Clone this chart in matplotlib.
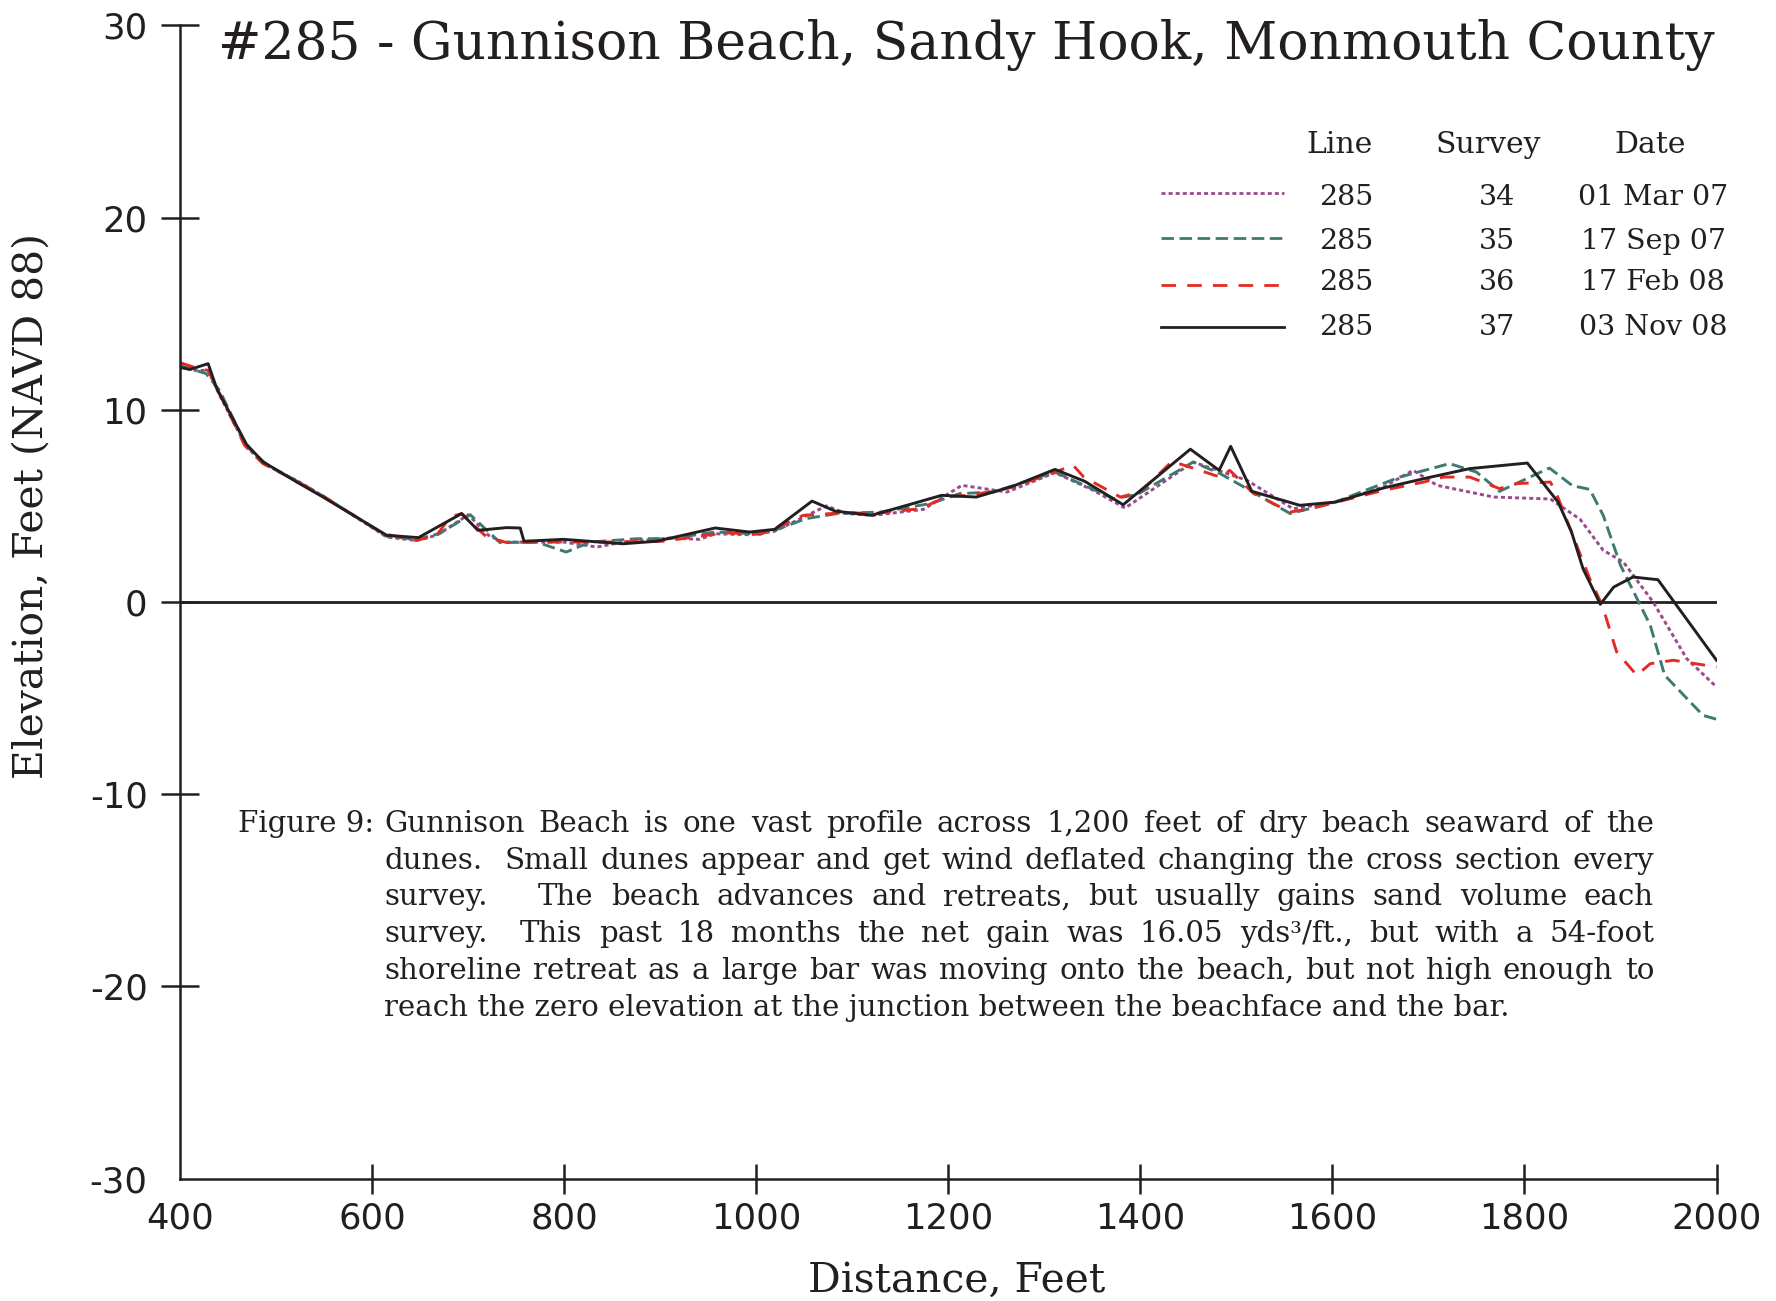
import matplotlib
matplotlib.use("Agg")
import matplotlib.pyplot as plt
from matplotlib.lines import Line2D

# profile data, distance (ft) vs elevation (ft NAVD 88)
d34 = [400, 413, 429, 441, 469, 490, 521, 549, 615, 646, 667, 700, 721, 736, 799, 834, 861, 910, 941, 957,
       993, 1019, 1073, 1094, 1122, 1174, 1214, 1261, 1311, 1351, 1384, 1455, 1511, 1559, 1603, 1653, 1684,
       1709, 1768, 1827, 1858, 1882, 1903, 1934, 1969, 2000]
e34 = [12.3, 12.05, 12.05, 10.75, 8.05, 7.1, 6.33, 5.5, 3.38, 3.2, 3.47, 4.54, 3.47, 3.12, 3.12, 2.86, 3.12,
       3.33, 3.26, 3.55, 3.5, 3.68, 5.0, 4.6, 4.51, 4.82, 6.07, 5.72, 6.73, 5.81, 4.89, 7.28, 6.33, 4.85, 5.2,
       5.98, 6.85, 6.07, 5.46, 5.36, 4.3, 2.69, 2.08, 0.0, -2.95, -4.42]

d35 = [400, 427, 441, 469, 490, 521, 549, 615, 646, 670, 702, 733, 771, 802, 827, 875, 910, 957, 993, 1019,
       1052, 1084, 1129, 1181, 1212, 1247, 1311, 1372, 1396, 1455, 1483, 1514, 1556, 1603, 1670, 1722, 1750,
       1774, 1826, 1850, 1868, 1882, 1900, 1931, 1946, 1986, 2000]
e35 = [12.3, 11.88, 11.0, 8.1, 7.15, 6.3, 5.5, 3.42, 3.26, 3.56, 4.54, 3.09, 3.12, 2.6, 3.12, 3.29, 3.3, 3.64,
       3.56, 3.73, 4.34, 4.6, 4.68, 5.12, 5.64, 5.72, 6.76, 5.38, 5.58, 7.28, 6.68, 5.81, 4.6, 5.2, 6.5, 7.2,
       6.76, 5.76, 6.97, 6.05, 5.86, 4.51, 1.91, -1.21, -3.81, -5.9, -6.1]

d36 = [400, 415, 429, 440, 467, 486, 521, 549, 611, 646, 667, 681, 693, 719, 740, 785, 841, 903, 948, 969,
       1004, 1019, 1049, 1094, 1122, 1170, 1198, 1226, 1268, 1330, 1341, 1379, 1400, 1433, 1483, 1493, 1518,
       1556, 1577, 1653, 1695, 1716, 1743, 1774, 1792, 1827, 1834, 1868, 1881, 1896, 1917, 1931, 1955, 2000]
e36 = [12.45, 12.2, 12.05, 10.93, 8.15, 7.2, 6.3, 5.5, 3.56, 3.2, 3.47, 4.42, 4.6, 3.38, 3.09, 3.12, 3.12,
       3.16, 3.47, 3.6, 3.52, 3.82, 4.51, 4.65, 4.6, 4.85, 5.46, 5.58, 5.98, 7.11, 6.5, 5.46, 5.72, 7.32, 6.5,
       6.85, 5.64, 4.68, 4.85, 5.81, 6.24, 6.5, 6.5, 5.9, 6.16, 6.24, 5.55, 1.21, -0.17, -2.6, -3.81, -3.21,
       -3.03, -3.38]

d37 = [400, 410, 429, 438, 469, 486, 521, 549, 615, 648, 693, 710, 740, 754, 758, 799, 861, 896, 957, 993,
       1019, 1058, 1082, 1120, 1163, 1193, 1229, 1268, 1311, 1342, 1382, 1452, 1482, 1494, 1516, 1566, 1603,
       1653, 1698, 1743, 1803, 1835, 1849, 1861, 1879, 1893, 1913, 1939, 2000]
e37 = [12.2, 12.1, 12.4, 11.1, 8.2, 7.3, 6.25, 5.45, 3.47, 3.35, 4.6, 3.73, 3.87, 3.85, 3.16, 3.26, 3.03,
       3.16, 3.85, 3.64, 3.78, 5.25, 4.73, 4.51, 5.12, 5.55, 5.46, 6.04, 6.9, 6.28, 5.06, 7.95, 6.85, 8.1,
       5.76, 5.03, 5.2, 5.93, 6.45, 6.94, 7.23, 5.2, 3.64, 1.73, -0.12, 0.78, 1.3, 1.16, -3.03]

line_ids = ["285", "285", "285", "285"]
surveys = ["34", "35", "36", "37"]
dates = ["01 Mar 07", "17 Sep 07", "17 Feb 08", "03 Nov 08"]

title = "#285 - Gunnison Beach, Sandy Hook, Monmouth County"
caption_lines = [
    "Gunnison Beach is one vast profile across 1,200 feet of dry beach seaward of the",
    "dunes.  Small dunes appear and get wind deflated changing the cross section every",
    "survey.   The beach advances and retreats, but usually gains sand volume each",
    "survey.  This past 18 months the net gain was 16.05 yds\u00b3/ft., but with a 54-foot",
    "shoreline retreat as a large bar was moving onto the beach, but not high enough to",
    "reach the zero elevation at the junction between the beachface and the bar.",
]

W, H = 1776, 1301
ink = "#231f20"
serif = "DejaVu Serif"
plt.rcParams["lines.scale_dashes"] = False
plt.rcParams["axes.unicode_minus"] = False

fig = plt.figure(figsize=(W / 100, H / 100), dpi=100)
ax = fig.add_axes([180.3 / W, 1 - 1178.6 / H, (1716.5 - 180.3) / W, (1178.6 - 25.4) / H])

styles = [
    (d34, e34, "#9b4a8c", (0, (2.9, 2.2))),
    (d35, e35, "#3e7a70", (0, (9.0, 4.0))),
    (d36, e36, "#e32b24", (0, (10.5, 8.0))),
    (d37, e37, ink, "-"),
]
for x, y, c, ls in styles:
    ax.plot(x, y, color=c, linestyle=ls, lw=2.1)

ax.axhline(0, color=ink, lw=2.0, zorder=1)

ax.set_xlim(400, 2000)
ax.set_ylim(-30, 30)
ax.set_xticks(range(400, 2001, 200))
ax.set_yticks(range(-30, 31, 10))
for s in ["top", "right"]:
    ax.spines[s].set_visible(False)
for s in ["left", "bottom"]:
    ax.spines[s].set_linewidth(1.8)
    ax.spines[s].set_color(ink)
ax.tick_params(axis="y", direction="inout", length=27, width=1.8, pad=10, color=ink,
               labelsize=25.5, labelcolor=ink)
ax.tick_params(axis="x", direction="inout", length=21, width=1.8, pad=6, color=ink,
               labelsize=25.5, labelcolor=ink)
ax.xaxis.get_major_ticks()[0].tick1line.set_visible(False)
ax.xaxis.get_major_ticks()[0].tick2line.set_visible(False)
ax.yaxis.get_major_ticks()[0].tick1line.set_visible(False)
for lab in ax.get_xticklabels() + ax.get_yticklabels():
    lab.set_family("DejaVu Sans")

fig.text(218 / W, 1 - 59 / H, title, family=serif, fontsize=37.4, color=ink, va="baseline", ha="left")
fig.text(957 / W, 1 - 1281 / H, "Distance, Feet", family=serif, fontsize=29.3, color=ink,
         ha="center", va="center")
fig.text(32 / W, 1 - 506 / H, "Elevation, Feet (NAVD 88)", family=serif, fontsize=29.3, color=ink,
         ha="center", va="center", rotation=90)

# legend as a small table
leg_fs = 20.5
hdr_fs = 21.5
fig.text(1340 / W, 1 - 153 / H, "Line", family=serif, fontsize=hdr_fs, color=ink, ha="center", va="baseline")
fig.text(1488 / W, 1 - 153 / H, "Survey", family=serif, fontsize=hdr_fs, color=ink, ha="center", va="baseline")
fig.text(1650 / W, 1 - 153 / H, "Date", family=serif, fontsize=hdr_fs, color=ink, ha="center", va="baseline")
row_base = [205, 249, 290, 335]
row_key = [193, 238, 285, 327]
for i, (x, y, c, ls) in enumerate(styles):
    fig.add_artist(Line2D([1161 / W, 1284 / W], [1 - row_key[i] / H] * 2, color=c, linestyle=ls,
                          lw=2.0, transform=fig.transFigure))
    yb = 1 - row_base[i] / H
    fig.text(1346 / W, yb, line_ids[i], family=serif, fontsize=leg_fs, color=ink, ha="center", va="baseline")
    fig.text(1497 / W, yb, surveys[i], family=serif, fontsize=leg_fs, color=ink, ha="center", va="baseline")
    fig.text(1653 / W, yb, dates[i], family=serif, fontsize=leg_fs, color=ink, ha="center", va="baseline")

# caption, justified word by word
cap_fs = 21.1
left, right = 384, 1654
base0, step = 832, 36.7
fig.text(238 / W, 1 - base0 / H, "Figure 9:", family=serif, fontsize=cap_fs, color=ink, va="baseline")
renderer = fig.canvas.get_renderer()


def width_px(s):
    t = fig.text(0, 0, s, family=serif, fontsize=cap_fs)
    w = t.get_window_extent(renderer).width
    t.remove()
    return w


for k, line in enumerate(caption_lines):
    yb = 1 - (base0 + k * step) / H
    if k == len(caption_lines) - 1:
        fig.text(left / W, yb, line, family=serif, fontsize=cap_fs, color=ink, va="baseline")
        continue
    toks = line.split(" ")
    ws = [width_px(t) if t else 0 for t in toks]
    gap = (right - left - sum(ws)) / (len(toks) - 1)
    x = left
    for t, w in zip(toks, ws):
        if t:
            fig.text(x / W, yb, t, family=serif, fontsize=cap_fs, color=ink, va="baseline")
        x += w + gap

fig.savefig("out.png", dpi=100)
